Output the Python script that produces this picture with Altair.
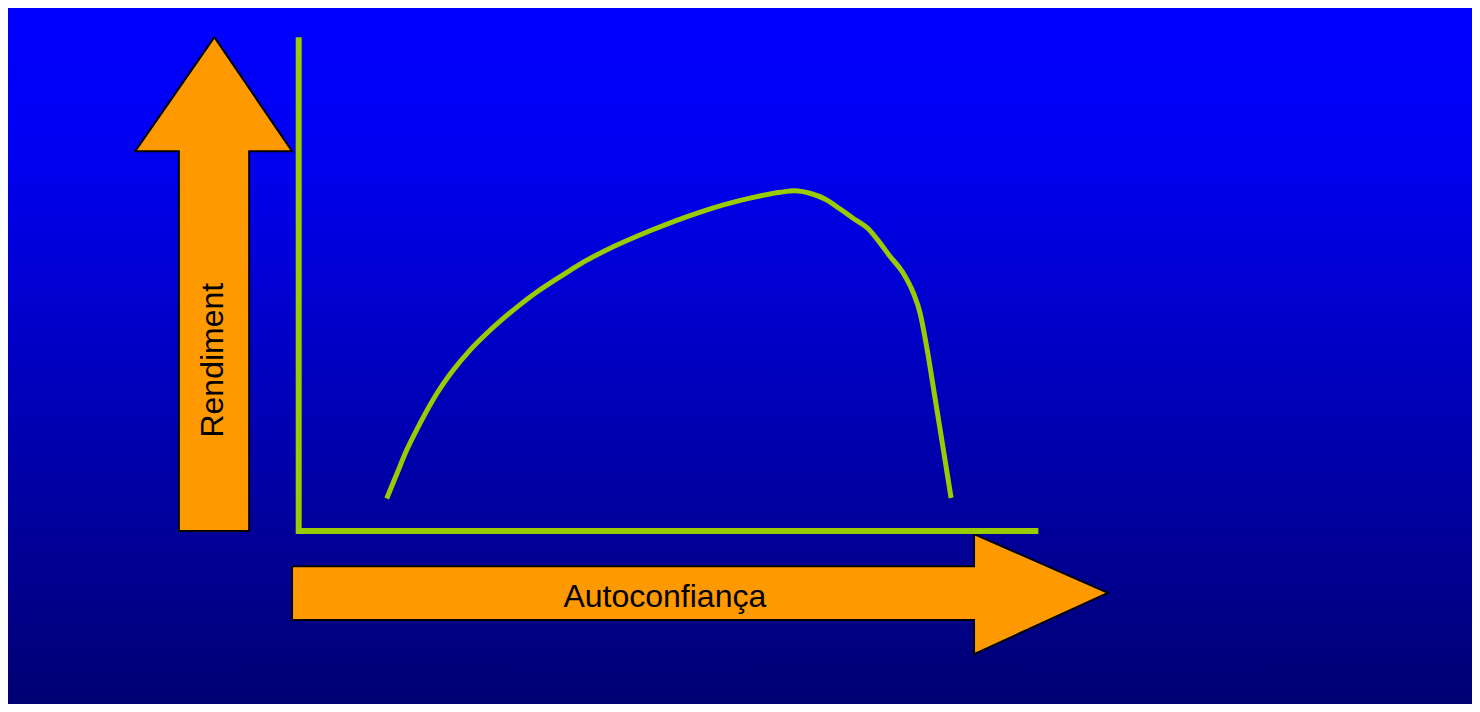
import altair as alt
import pandas as pd

# Curve: Rendiment vs Autoconfiança (data units 0-100)
curve_x = [11.9, 13.3, 14.6, 16.4, 18.7, 20.9, 23.2, 25.4, 27.7, 29.9, 32.2, 34.4,
           36.7, 38.9, 41.2, 47.5, 54.3, 61.0, 65.1, 67.1, 69.1, 71.2, 73.2, 74.9,
           77.0, 78.3, 79.9, 81.7, 83.1, 84.0, 84.9, 86.0, 87.1, 88.2]
curve_y = [6.6, 11.7, 16.4, 21.8, 27.9, 32.6, 36.7, 40.0, 43.1, 45.8, 48.4, 50.6,
           52.8, 54.8, 56.6, 60.8, 64.6, 67.4, 68.6, 68.9, 68.4, 67.2, 65.2, 63.4,
           61.2, 58.9, 55.7, 52.3, 48.2, 44.2, 37.3, 27.2, 17.0, 6.7]

# Axis lines
axis_x = [0, 0, 100]
axis_y = [100, 0, 0]

# Arrow outlines (data units)
up_x = [-11.4, -0.9, -6.7, -6.7, -16.2, -16.2, -22.1, -11.4]
up_y = [100.0, 76.9, 76.9, 0.0, 0.0, 76.9, 76.9, 100.0]
right_x = [-0.9, 91.3, 91.3, 109.4, 91.3, 91.3, -0.9, -0.9]
right_y = [-7.1, -7.1, -0.6, -12.5, -24.9, -18.0, -18.0, -7.1]

# Labels
label_text = ["Rendiment", "Autoconfiança"]
label_x = [-10.2, 49.5]
label_y = [34.6, -15.4]
label_angle = [270, 0]

X_DOMAIN = [-39.3, 158.62]
Y_DOMAIN = [-35.0, 105.9]

xs = alt.Scale(domain=X_DOMAIN, nice=False, zero=False)
ys = alt.Scale(domain=Y_DOMAIN, nice=False, zero=False)

ORANGE = "#FF9900"
GREEN = "#99CC00"

gradient = alt.LinearGradient(
    gradient="linear",
    stops=[alt.GradientStop(color="#0000FF", offset=0),
           alt.GradientStop(color="#0000F2", offset=0.2),
           alt.GradientStop(color="#000072", offset=1)],
    x1=0, x2=0, y1=0, y2=1,
)

bg = alt.Chart(pd.DataFrame({"a": [0]})).mark_rect(color=gradient).encode(
    x=alt.value(0), x2=alt.value("width"), y=alt.value(0), y2=alt.value("height")
)

def poly(xv, yv):
    df = pd.DataFrame({"x": xv, "y": yv, "i": list(range(len(xv)))})
    return alt.Chart(df).mark_line(
        fill=ORANGE, stroke="black", strokeWidth=2, strokeJoin="miter"
    ).encode(
        x=alt.X("x:Q", scale=xs, axis=None),
        y=alt.Y("y:Q", scale=ys, axis=None),
        order=alt.Order("i:Q"),
    )

up = poly(up_x, up_y)
right = poly(right_x, right_y)

axes_df = pd.DataFrame({"x": axis_x, "y": axis_y, "i": [0, 1, 2]})
axes = alt.Chart(axes_df).mark_line(
    color=GREEN, strokeWidth=6, strokeCap="butt", strokeJoin="miter"
).encode(
    x=alt.X("x:Q", scale=xs, axis=None),
    y=alt.Y("y:Q", scale=ys, axis=None),
    order=alt.Order("i:Q"),
)

curve_df = pd.DataFrame({"x": curve_x, "y": curve_y, "i": list(range(len(curve_x)))})
curve = alt.Chart(curve_df).mark_line(
    color=GREEN, strokeWidth=5, strokeCap="butt", interpolate="monotone"
).encode(
    x=alt.X("x:Q", scale=xs, axis=None),
    y=alt.Y("y:Q", scale=ys, axis=None),
    order=alt.Order("i:Q"),
)

lab_df = pd.DataFrame({"t": label_text, "x": label_x, "y": label_y, "a": label_angle})
labels = alt.Chart(lab_df).mark_text(
    font="Liberation Sans", fontSize=32, color="black", align="center", baseline="alphabetic"
).encode(
    x=alt.X("x:Q", scale=xs, axis=None),
    y=alt.Y("y:Q", scale=ys, axis=None),
    text="t:N",
    angle=alt.Angle("a:Q", scale=None),
)

chart = alt.layer(bg, up, right, axes, curve, labels).properties(
    width=1464, height=696, padding=0, autosize=alt.AutoSizeParams(type="none")
).configure_view(strokeWidth=0)

chart.save("out.html", embed_options={"renderer": "svg", "actions": False})
